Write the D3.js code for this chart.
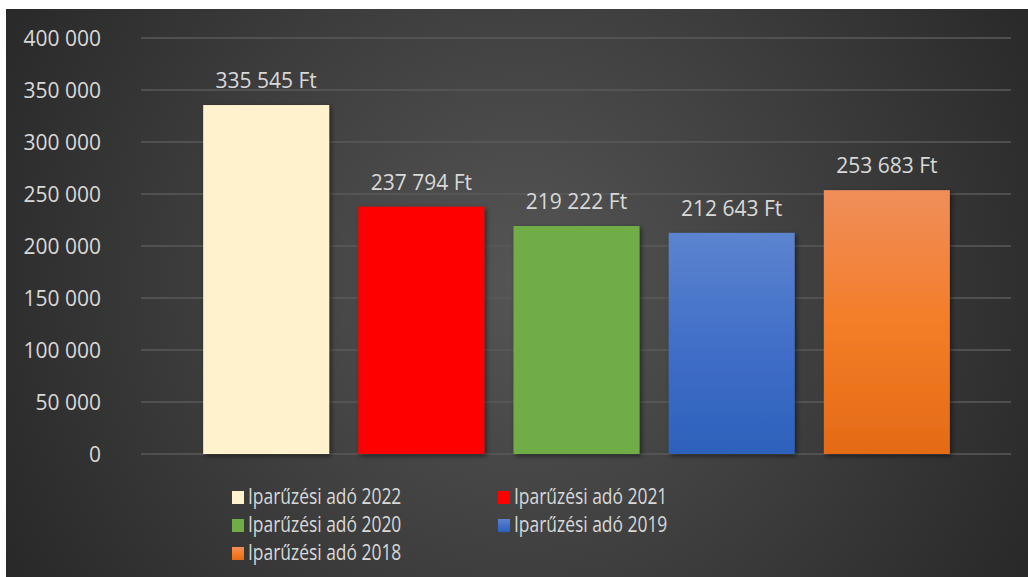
<!DOCTYPE html>
<html>
<head>
<meta charset="utf-8">
<script src="https://cdn.jsdelivr.net/npm/d3@7"></script>
<style>
  body { margin: 0; background: #fff; }
  text { font-family: "Open Sans", sans-serif; }
</style>
</head>
<body>
<script>
// chart data
var categories = ["Iparűzési adó 2022", "Iparűzési adó 2021", "Iparűzési adó 2020", "Iparűzési adó 2019", "Iparűzési adó 2018"];
var values = [335545, 237794, 219222, 212643, 253683];
var yTicks = [0, 50000, 100000, 150000, 200000, 250000, 300000, 350000, 400000];

var svgWidth = 1028, svgHeight = 577;
var svg = d3.select("body").append("svg")
    .attr("width", svgWidth)
    .attr("height", svgHeight);

var defs = svg.append("defs");

var bg = defs.append("radialGradient")
    .attr("id", "bgGrad")
    .attr("gradientUnits", "userSpaceOnUse")
    .attr("cx", 520).attr("cy", 280).attr("r", 620);
bg.append("stop").attr("offset", "0%").attr("stop-color", "#555555");
bg.append("stop").attr("offset", "100%").attr("stop-color", "#262626");

// bar fills
function linGrad(id, stops) {
  var g = defs.append("linearGradient").attr("id", id)
      .attr("x1", 0).attr("y1", 0).attr("x2", 0).attr("y2", 1);
  stops.forEach(function(s){
    g.append("stop").attr("offset", s[0]).attr("stop-color", s[1]);
  });
}
linGrad("g2022", [["0%", "#fff2cc"], ["100%", "#fff2cc"]]);
linGrad("g2021", [["0%", "#ff0000"], ["100%", "#ff0000"]]);
linGrad("g2020", [["0%", "#70ad47"], ["100%", "#70ad47"]]);
linGrad("g2019", [["0%", "#5c84cf"], ["50%", "#416fc8"], ["100%", "#2d61bb"]]);
linGrad("g2018", [["0%", "#f08e5a"], ["50%", "#f47d28"], ["100%", "#e46b16"]]);
var fills = ["url(#g2022)", "url(#g2021)", "url(#g2020)", "url(#g2019)", "url(#g2018)"];

var shadow = defs.append("filter").attr("id", "shadow")
    .attr("x", "-10%").attr("y", "-10%").attr("width", "130%").attr("height", "130%");
shadow.append("feDropShadow")
    .attr("dx", 2).attr("dy", 2).attr("stdDeviation", 2.5)
    .attr("flood-color", "#000").attr("flood-opacity", 0.5);

svg.append("rect")
    .attr("x", 6).attr("y", 9)
    .attr("width", svgWidth - 6).attr("height", svgHeight - 9)
    .attr("fill", "url(#bgGrad)");

var x = d3.scaleBand()
    .domain(categories)
    .range([174, 979])
    .padding(0.188);

var y = d3.scaleLinear()
    .domain([0, 400000])
    .range([454, 38]);

var fmt = function(v){ return d3.format(",")(v).replace(/,/g, " "); };

// gridlines
svg.append("g").selectAll("line")
  .data(yTicks)
  .enter()
  .append("line")
  .attr("x1", 141).attr("x2", 1011)
  .attr("y1", function(d){ return y(d); })
  .attr("y2", function(d){ return y(d); })
  .attr("stroke", "#5a5a5a")
  .attr("stroke-width", 1.5);

// y axis labels
var yAxis = svg.append("g")
    .attr("transform", "translate(101,0)")
    .call(d3.axisLeft(y).tickValues(yTicks).tickFormat(fmt).tickSize(0).tickPadding(0));
yAxis.select(".domain").remove();
yAxis.selectAll("text")
    .attr("fill", "#d9d9d9")
    .attr("dy", "0.38em")
    .style("font-size", "21px")
    .style("font-family", "'Open Sans', sans-serif");

// bars
svg.append("g").selectAll("rect")
  .data(values)
  .enter()
  .append("rect")
  .attr("x", function(d, i){ return x(categories[i]); })
  .attr("y", function(d){ return y(d); })
  .attr("width", x.bandwidth())
  .attr("height", function(d){ return y(0) - y(d); })
  .attr("fill", function(d, i){ return fills[i]; })
  .attr("filter", "url(#shadow)");

// value labels
svg.append("g").selectAll("text")
  .data(values)
  .enter()
  .append("text")
  .attr("x", function(d, i){ return x(categories[i]) + x.bandwidth() / 2; })
  .attr("y", function(d){ return y(d) - 17; })
  .attr("text-anchor", "middle")
  .attr("fill", "#d9d9d9")
  .style("font-size", "21px")
  .text(function(d){ return fmt(d) + " Ft"; });

// legend
var legendPos = [[232, 497], [498, 497], [232, 525], [498, 525], [232, 553]];
var legend = svg.append("g").selectAll("g")
  .data(categories)
  .enter()
  .append("g")
  .attr("transform", function(d, i){ return "translate(" + legendPos[i][0] + "," + legendPos[i][1] + ")"; });
legend.append("rect")
  .attr("x", 0).attr("y", -6)
  .attr("width", 12).attr("height", 13)
  .attr("fill", function(d, i){ return fills[i]; });
legend.append("text")
  .attr("transform", "translate(16,0) scale(0.83,1)")
  .attr("dy", "0.35em")
  .attr("fill", "#d9d9d9")
  .style("font-size", "21px")
  .text(function(d){ return d; });
</script>
</body>
</html>
